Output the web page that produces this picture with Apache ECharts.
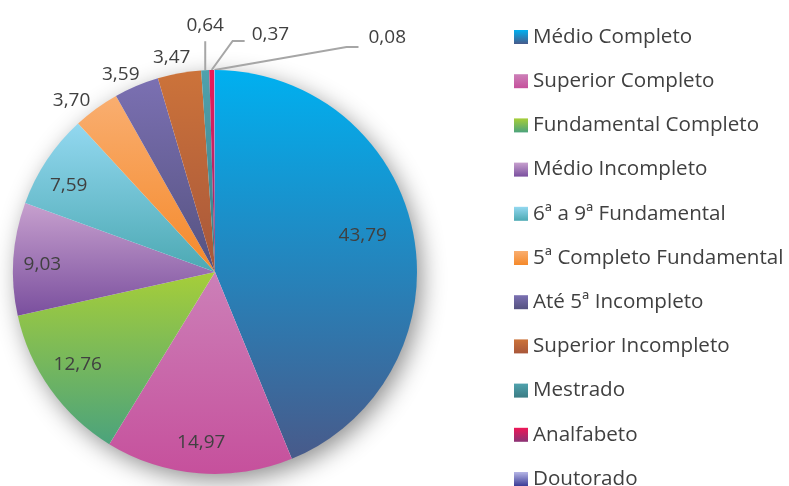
<!DOCTYPE html>
<html style="height: 100%">
<head>
<meta charset="utf-8">
</head>
<body style="height: 100%; margin: 0; background: #fff">
<div id="container" style="width: 789px; height: 486px"></div>
<script src="https://cdn.jsdelivr.net/npm/echarts@6/dist/echarts.min.js"></script>
<script>
// categories and values, clockwise from 12 o'clock
var categorias = ['Médio Completo', 'Superior Completo', 'Fundamental Completo', 'Médio Incompleto',
    '6ª a 9ª Fundamental', '5ª Completo Fundamental', 'Até 5ª Incompleto', 'Superior Incompleto',
    'Mestrado', 'Analfabeto', 'Doutorado'];
var valores = [43.79, 14.97, 12.76, 9.03, 7.59, 3.70, 3.59, 3.47, 0.64, 0.37, 0.08];
var rotuloDentro = [true, true, true, true, true, false, false, false, false, false, false];

// excel-like vertical gradients (top, bottom)
var cores = [
    ['#00b0f0', '#485a8a'],
    ['#cc80b8', '#c6509c'],
    ['#a6ce39', '#4ba37c'],
    ['#c7a0ce', '#7a4f9e'],
    ['#93d8f0', '#4ca9b3'],
    ['#f9ae70', '#f5892a'],
    ['#7b70b2', '#555280'],
    ['#cc733a', '#a8573a'],
    ['#50a2ad', '#3b7c84'],
    ['#ee1757', '#8a3375'],
    ['#b6b6e6', '#3b3b96']
];

// nudges for outside labels (relative to the default spot)
var ajusteRotulo = {
    5: {centro: [2, -4]},
    6: {centro: [10, -7]},
    7: {centro: [17, -11]},
    8: {linha: [[0, -29]], texto: [0, -16], align: 'center'},
    9: {linha: [[21, -29], [33, -29]], texto: [7, -6], align: 'left'},
    10: {linha: [[132, -23], [144, -23]], texto: [10, -9], align: 'left'}
};
// nudges for inside labels
var ajusteDentro = {
    0: [-20, -3],
    2: [2, -7],
    3: [-2, 4],
    4: [-4, 8]
};

function grad(c) {
    return new echarts.graphic.LinearGradient(0, 0, 0, 1, [
        {offset: 0, color: c[0]},
        {offset: 1, color: c[1]}
    ]);
}
function fmt(v) {
    return v.toFixed(2).replace('.', ',');
}

var R = 202;
var centro = [215, 272];
var fonte = 'Open Sans';

var dadosPizza = categorias.map(function (nome, i) {
    var item = {name: nome, value: valores[i], itemStyle: {color: grad(cores[i])}};
    if (rotuloDentro[i]) {
        item.label = {show: false};
    } else if (i >= 8) {
        item.labelLine = {show: true, length: 5, length2: 5};
    } else {
        item.labelLine = {show: false, length: 5, length2: 0};
    }
    return item;
});

var dadosRotulo = categorias.map(function (nome, i) {
    return {name: nome, value: valores[i], label: {show: rotuloDentro[i]}};
});

var myChart = echarts.init(document.getElementById('container'));
var option = {
    backgroundColor: '#ffffff',
    animation: false,
    legend: {
        orient: 'vertical',
        left: 514,
        top: 25,
        padding: 0,
        height: 600,
        itemWidth: 14,
        itemHeight: 14,
        itemGap: 20.2,
        icon: 'rect',
        data: categorias,
        selectedMode: false,
        textStyle: {fontFamily: fonte, fontSize: 20.6, color: '#404040', lineHeight: 24}
    },
    series: [
        {
            // soft drop shadow behind the pie
            type: 'pie',
            center: centro,
            radius: [0, R - 1],
            silent: true,
            z: 1,
            label: {show: false},
            labelLine: {show: false},
            itemStyle: {
                color: '#ffffff',
                shadowBlur: 24,
                shadowColor: 'rgba(0,0,0,0.45)',
                shadowOffsetX: 5,
                shadowOffsetY: 7
            },
            data: [{value: 1, name: ''}]
        },
        {
            type: 'pie',
            center: centro,
            radius: [0, R],
            startAngle: 90,
            clockwise: true,
            avoidLabelOverlap: false,
            z: 2,
            itemStyle: {borderWidth: 0},
            emphasis: {disabled: true},
            label: {
                show: true,
                position: 'outside',
                fontFamily: fonte,
                fontSize: 19,
                color: '#404040',
                formatter: function (p) { return fmt(p.value); }
            },
            labelLine: {lineStyle: {color: '#a6a6a6', width: 2}},
            labelLayout: function (p) {
                var t = ajusteRotulo[p.dataIndex];
                if (!t) {
                    return;
                }
                if (t.linha && p.labelLinePoints) {
                    var a = p.labelLinePoints[0];
                    var pts = [[a[0], a[1]]];
                    t.linha.forEach(function (d) {
                        pts.push([a[0] + d[0], a[1] + d[1]]);
                    });
                    var fim = pts[pts.length - 1];
                    return {
                        x: fim[0] + t.texto[0],
                        y: fim[1] + t.texto[1],
                        align: t.align,
                        verticalAlign: 'middle',
                        labelLinePoints: pts
                    };
                }
                if (t.centro) {
                    var r = p.labelRect;
                    return {
                        x: r.x + r.width / 2 + t.centro[0],
                        y: r.y + r.height / 2 + t.centro[1],
                        align: 'center',
                        verticalAlign: 'middle'
                    };
                }
            },
            data: dadosPizza
        },
        {
            // transparent ring used only to place the inside labels
            type: 'pie',
            center: centro,
            radius: [R - 68, R],
            startAngle: 90,
            silent: true,
            z: 3,
            itemStyle: {color: 'rgba(0,0,0,0)'},
            emphasis: {disabled: true},
            labelLine: {show: false},
            label: {
                position: 'inside',
                fontFamily: fonte,
                fontSize: 19,
                color: '#404040',
                formatter: function (p) { return fmt(p.value); }
            },
            labelLayout: function (p) {
                var d = ajusteDentro[p.dataIndex];
                if (!d) {
                    return;
                }
                var r = p.labelRect;
                return {
                    x: r.x + r.width / 2 + d[0],
                    y: r.y + r.height / 2 + d[1],
                    align: 'center',
                    verticalAlign: 'middle'
                };
            },
            data: dadosRotulo
        }
    ]
};
myChart.setOption(option);
</script>
</body>
</html>
